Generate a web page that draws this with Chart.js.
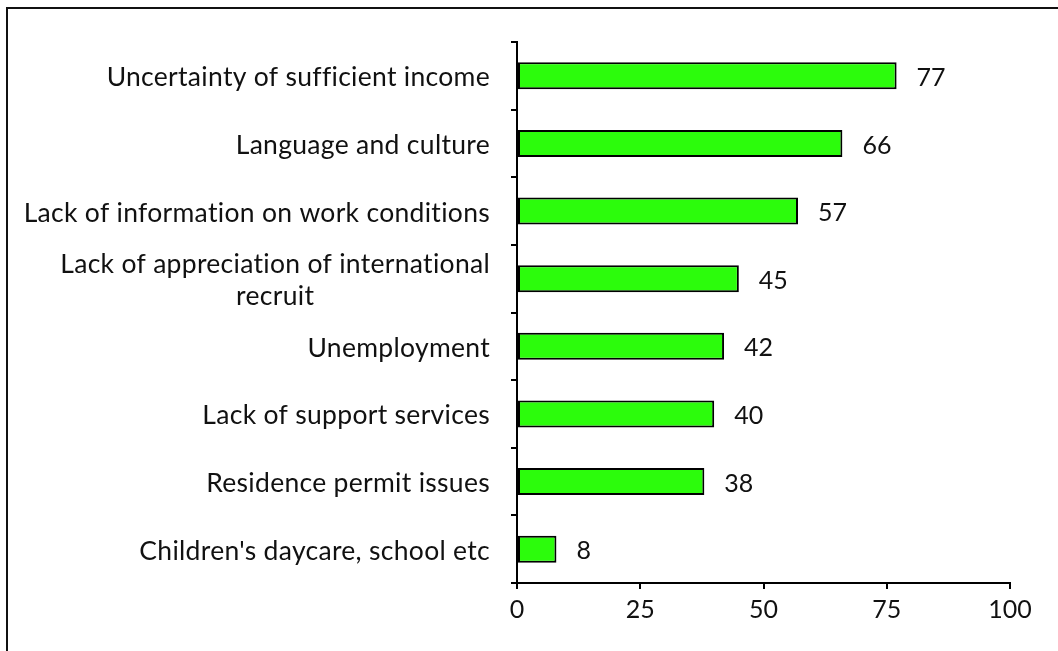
<!DOCTYPE html>
<html>
<head>
<meta charset="utf-8">
<script src="https://cdn.jsdelivr.net/npm/chart.js@4"></script>
<style>
  html, body { margin: 0; padding: 0; background: #fff; }
  #wrap { width: 1058px; height: 651px; position: relative; }
</style>
</head>
<body>
<div id="wrap"><canvas id="chart"></canvas></div>
<script>
const categories = [
  "Uncertainty of sufficient income",
  "Language and culture",
  "Lack of information on work conditions",
  ["Lack of appreciation of international", "recruit"],
  "Unemployment",
  "Lack of support services",
  "Residence permit issues",
  "Children's daycare, school etc"
];
const values = [77, 66, 57, 45, 42, 40, 38, 8];
const xTicks = [0, 25, 50, 75, 100];

const FONT = "Lato, 'Open Sans', sans-serif";
const LABEL_SIZE = 26.5;
const NUM_SIZE = 25;

// frame around the whole figure (only left and top edges are visible)
const framePlugin = {
  id: "frame",
  beforeDraw(chart) {
    const c = chart.ctx;
    c.save();
    c.strokeStyle = "#111";
    c.lineWidth = 2;
    c.strokeRect(7, 8, chart.width + 20, chart.height + 20);
    c.restore();
  }
};

// category labels: each block sits right of the axis, lines centred to each other
const catLabelPlugin = {
  id: "catLabels",
  afterDraw(chart) {
    const c = chart.ctx;
    const y = chart.scales.y;
    const rightEdge = y.right - 27;
    const lineH = 32;
    c.save();
    c.font = `${LABEL_SIZE}px ${FONT}`;
    c.letterSpacing = "0.3px";
    c.fillStyle = "#111";
    c.textBaseline = "middle";
    c.textAlign = "center";
    categories.forEach((cat, i) => {
      const lines = Array.isArray(cat) ? cat : [cat];
      const w = Math.max(...lines.map((l) => c.measureText(l).width));
      const cx = rightEdge - w / 2;
      const cy = y.getPixelForValue(i) + 2;
      const y0 = cy - ((lines.length - 1) * lineH) / 2;
      lines.forEach((l, j) => c.fillText(l, cx, y0 + j * lineH));
    });
    c.restore();
  }
};

// value printed to the right of each bar
const valueLabelPlugin = {
  id: "valueLabels",
  afterDatasetsDraw(chart) {
    const c = chart.ctx;
    const meta = chart.getDatasetMeta(0);
    c.save();
    c.font = `${NUM_SIZE}px ${FONT}`;
    c.fillStyle = "#111";
    c.textBaseline = "middle";
    c.textAlign = "left";
    meta.data.forEach((bar, i) => {
      c.fillText(String(values[i]), bar.x + 20, bar.y + 2);
    });
    c.restore();
  }
};

new Chart(document.getElementById("chart"), {
  type: "bar",
  data: {
    labels: categories.map((c) => (Array.isArray(c) ? c.join(" ") : c)),
    datasets: [
      {
        data: values,
        backgroundColor: "#2CFC0C",
        borderColor: "#000",
        borderWidth: 2,
        borderSkipped: false,
        barPercentage: 0.4,
        categoryPercentage: 1.0
      }
    ]
  },
  options: {
    indexAxis: "y",
    responsive: true,
    maintainAspectRatio: false,
    animation: false,
    layout: { padding: { left: 0, top: 42, right: 48, bottom: 0 } },
    plugins: {
      legend: { display: false },
      tooltip: { enabled: false }
    },
    scales: {
      x: {
        min: 0,
        max: 100,
        afterBuildTicks(scale) {
          scale.ticks = xTicks.map((v) => ({ value: v }));
        },
        afterFit(scale) {
          scale.height = 68;
        },
        border: { display: true, color: "#000", width: 2 },
        grid: {
          drawOnChartArea: false,
          drawTicks: true,
          tickLength: 6,
          color: "#000",
          lineWidth: 2
        },
        ticks: {
          color: "#111",
          font: { family: FONT, size: NUM_SIZE },
          padding: 6,
          maxRotation: 0
        }
      },
      y: {
        afterFit(scale) {
          scale.width = 517;
        },
        border: { display: true, color: "#000", width: 2 },
        grid: {
          offset: true,
          drawOnChartArea: false,
          drawTicks: true,
          tickLength: 6,
          color: "#000",
          lineWidth: 2
        },
        ticks: { display: false }
      }
    }
  },
  plugins: [framePlugin, catLabelPlugin, valueLabelPlugin]
});
</script>
</body>
</html>
